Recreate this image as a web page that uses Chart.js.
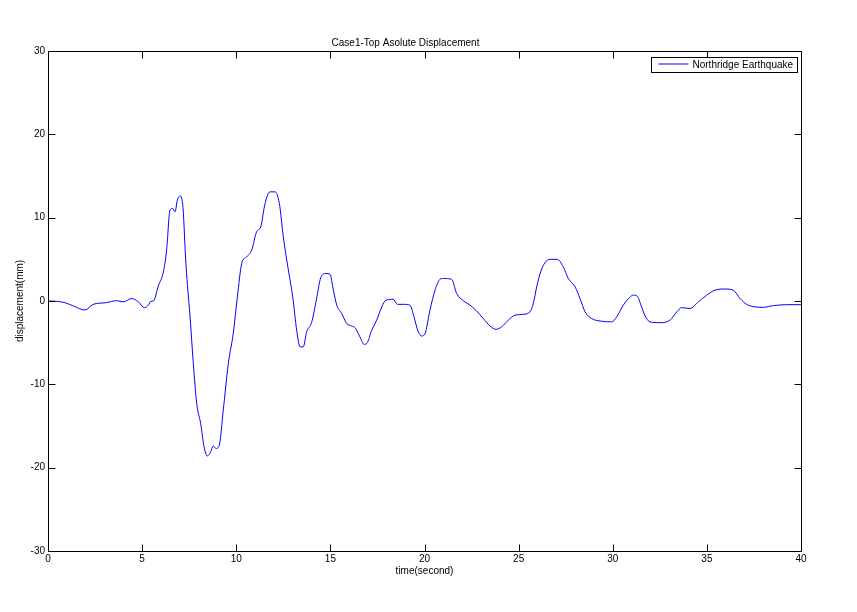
<!DOCTYPE html>
<html>
<head>
<meta charset="utf-8">
<script src="https://cdn.jsdelivr.net/npm/chart.js@4.4.0/dist/chart.umd.min.js"></script>
<style>
html,body{margin:0;padding:0;background:#fff;}
#wrap{width:857px;height:612px;}
</style>
</head>
<body>
<div id="wrap"><canvas id="c" width="857" height="612"></canvas></div>
<script>
const titleText = 'Case1-Top Asolute Displacement';
const xLabel = 'time(second)';
const yLabel = 'displacement(mm)';
const seriesName = 'Northridge Earthquake';
const xTicks = [0, 5, 10, 15, 20, 25, 30, 35, 40];
const yTicks = [-30, -20, -10, 0, 10, 20, 30];
const timeS = [0,0.5,0.9,1.35,1.97,2.4,3.1,3.65,4.0,4.45,4.8,5.12,5.33,5.45,5.6,5.86,6.13,6.3,6.48,6.62,6.75,6.87,7.03,7.17,7.33,7.54,7.72,7.9,8.11,8.29,8.46,8.64,8.78,8.92,9.1,9.31,9.58,9.84,10.06,10.29,10.55,10.82,11.08,11.3,11.53,11.79,12.06,12.29,12.5,12.77,13.0,13.21,13.39,13.56,13.74,14.0,14.26,14.49,14.77,14.98,15.16,15.34,15.6,15.87,16.13,16.31,16.57,16.79,16.93,17.2,17.46,17.73,17.95,18.34,18.56,18.88,19.23,19.44,19.67,19.85,20.03,20.29,20.56,20.82,21.0,21.44,21.71,22.06,22.42,22.77,23.12,23.48,23.8,24.1,24.45,24.81,25.25,25.6,25.78,25.96,26.17,26.4,26.67,27.05,27.37,27.64,28.0,28.26,28.53,28.88,29.32,29.94,30.21,30.56,30.88,31.09,31.3,31.5,31.7,31.98,32.51,33.04,33.4,33.66,34.1,34.55,34.99,35.43,35.96,36.4,36.76,37.11,37.56,38.0,38.53,39.24,40.0];
const dispMM = [0,-0.05,-0.2,-0.6,-1.08,-0.4,-0.2,0.04,-0.1,0.3,-0.1,-0.8,-0.5,-0.05,0,1.8,3.5,6.1,10.9,11.1,10.7,12.1,12.6,11.2,4.3,-1.7,-7.5,-12.3,-14.7,-17.5,-18.6,-18.1,-17.4,-17.7,-17.3,-13.1,-7.5,-3.9,0.5,4.5,5.3,6.1,8.3,8.9,11.7,13.1,13.1,11.7,7.7,3.7,0.5,-3.5,-5.5,-5.5,-3.7,-2.6,0.2,2.8,3.3,3.2,1.3,-0.5,-1.5,-2.7,-3.0,-3.2,-4.3,-5.2,-5.1,-3.5,-2.3,-0.7,0.1,0.2,-0.4,-0.4,-0.5,-1.9,-3.7,-4.2,-3.9,-1.1,1.3,2.6,2.7,2.6,0.9,0.04,-0.5,-1.2,-2.1,-3.0,-3.4,-3.1,-2.3,-1.7,-1.6,-1.3,-0.3,1.7,3.5,4.6,5.0,5.0,4.1,2.7,1.7,0.3,-1.3,-2.1,-2.4,-2.5,-1.9,-0.5,0.4,0.7,0.6,-0.5,-1.7,-2.5,-2.6,-2.3,-1.3,-0.8,-0.9,-0.1,0.7,1.3,1.44,1.3,0.3,-0.4,-0.7,-0.76,-0.56,-0.44,-0.44];

const FONT = "'Liberation Sans', Arial, sans-serif";
const points = timeS.map((t, i) => ({x: t, y: dispMM[i]}));

const framePlugin = {
  id: 'frame',
  afterDatasetsDraw(chart) {
    const {ctx, chartArea} = chart;
    const {left, top, right, bottom} = chartArea;
    const xs = chart.scales.x, ys = chart.scales.y;
    const L = Math.round(left) + 0.5, R = Math.round(right) + 0.5;
    const T = Math.round(top) + 0.5, B = Math.round(bottom) + 0.5;
    const tl = 7;
    ctx.save();
    ctx.strokeStyle = '#000';
    ctx.lineWidth = 1;
    ctx.beginPath();
    ctx.rect(L, T, R - L, B - T);
    xTicks.forEach(v => {
      const p = Math.round(xs.getPixelForValue(v)) + 0.5;
      ctx.moveTo(p, B); ctx.lineTo(p, B - tl);
      ctx.moveTo(p, T); ctx.lineTo(p, T + tl);
    });
    yTicks.forEach(v => {
      const p = Math.round(ys.getPixelForValue(v)) + 0.5;
      ctx.moveTo(L, p); ctx.lineTo(L + tl, p);
      ctx.moveTo(R, p); ctx.lineTo(R - tl, p);
    });
    ctx.stroke();
    // legend
    ctx.font = '10px ' + FONT;
    const label = chart.data.datasets[0].label;
    const tw = ctx.measureText(label).width;
    const bw = Math.round(41 + tw + 4);
    const bx = Math.round(right) - 4 - bw + 0.5;
    const by = Math.round(top) + 6 + 0.5;
    const bh = 15;
    ctx.fillStyle = '#fff';
    ctx.fillRect(bx, by, bw, bh);
    ctx.strokeRect(bx, by, bw, bh);
    ctx.strokeStyle = chart.data.datasets[0].borderColor;
    ctx.beginPath();
    ctx.moveTo(bx + 7, by + 6.5);
    ctx.lineTo(bx + 37, by + 6.5);
    ctx.stroke();
    ctx.fillStyle = '#000';
    ctx.textBaseline = 'middle';
    ctx.textAlign = 'left';
    ctx.fillText(label, bx + 41, by + bh / 2);
    ctx.restore();
  }
};

new Chart(document.getElementById('c'), {
  type: 'scatter',
  data: {
    datasets: [{
      label: seriesName,
      data: points,
      showLine: true,
      borderColor: '#0000ff',
      borderWidth: 1,
      pointRadius: 0,
      cubicInterpolationMode: 'monotone',
      fill: false
    }]
  },
  options: {
    responsive: false,
    animation: false,
    devicePixelRatio: 1,
    layout: {padding: {left: 10, right: 56, top: 0, bottom: 31}},
    plugins: {
      legend: {display: false},
      tooltip: {enabled: false},
      title: {
        display: true,
        text: titleText,
        color: '#000',
        font: {family: FONT, size: 10, weight: 'normal'},
        padding: {top: 37, bottom: 2}
      }
    },
    scales: {
      x: {
        type: 'linear',
        min: 0, max: 40,
        afterBuildTicks(scale) { scale.ticks = xTicks.map(v => ({value: v})); },
        afterFit(scale) { scale.height = 30; },
        grid: {display: false, drawTicks: false},
        border: {display: false},
        ticks: {color: '#000', font: {family: FONT, size: 10}, padding: 2, maxRotation: 0, autoSkip: false},
        title: {display: true, text: xLabel, color: '#000', font: {family: FONT, size: 10}, padding: {top: 4, bottom: 4}}
      },
      y: {
        type: 'linear',
        min: -30, max: 30,
        afterBuildTicks(scale) { scale.ticks = yTicks.map(v => ({value: v})); },
        afterFit(scale) { scale.width = 38; },
        grid: {display: false, drawTicks: false},
        border: {display: false},
        ticks: {color: '#000', font: {family: FONT, size: 10}, padding: 3, autoSkip: false},
        title: {display: true, text: yLabel, color: '#000', font: {family: FONT, size: 10}, padding: {top: 4, bottom: 4}}
      }
    }
  },
  plugins: [framePlugin]
});
</script>
</body>
</html>
